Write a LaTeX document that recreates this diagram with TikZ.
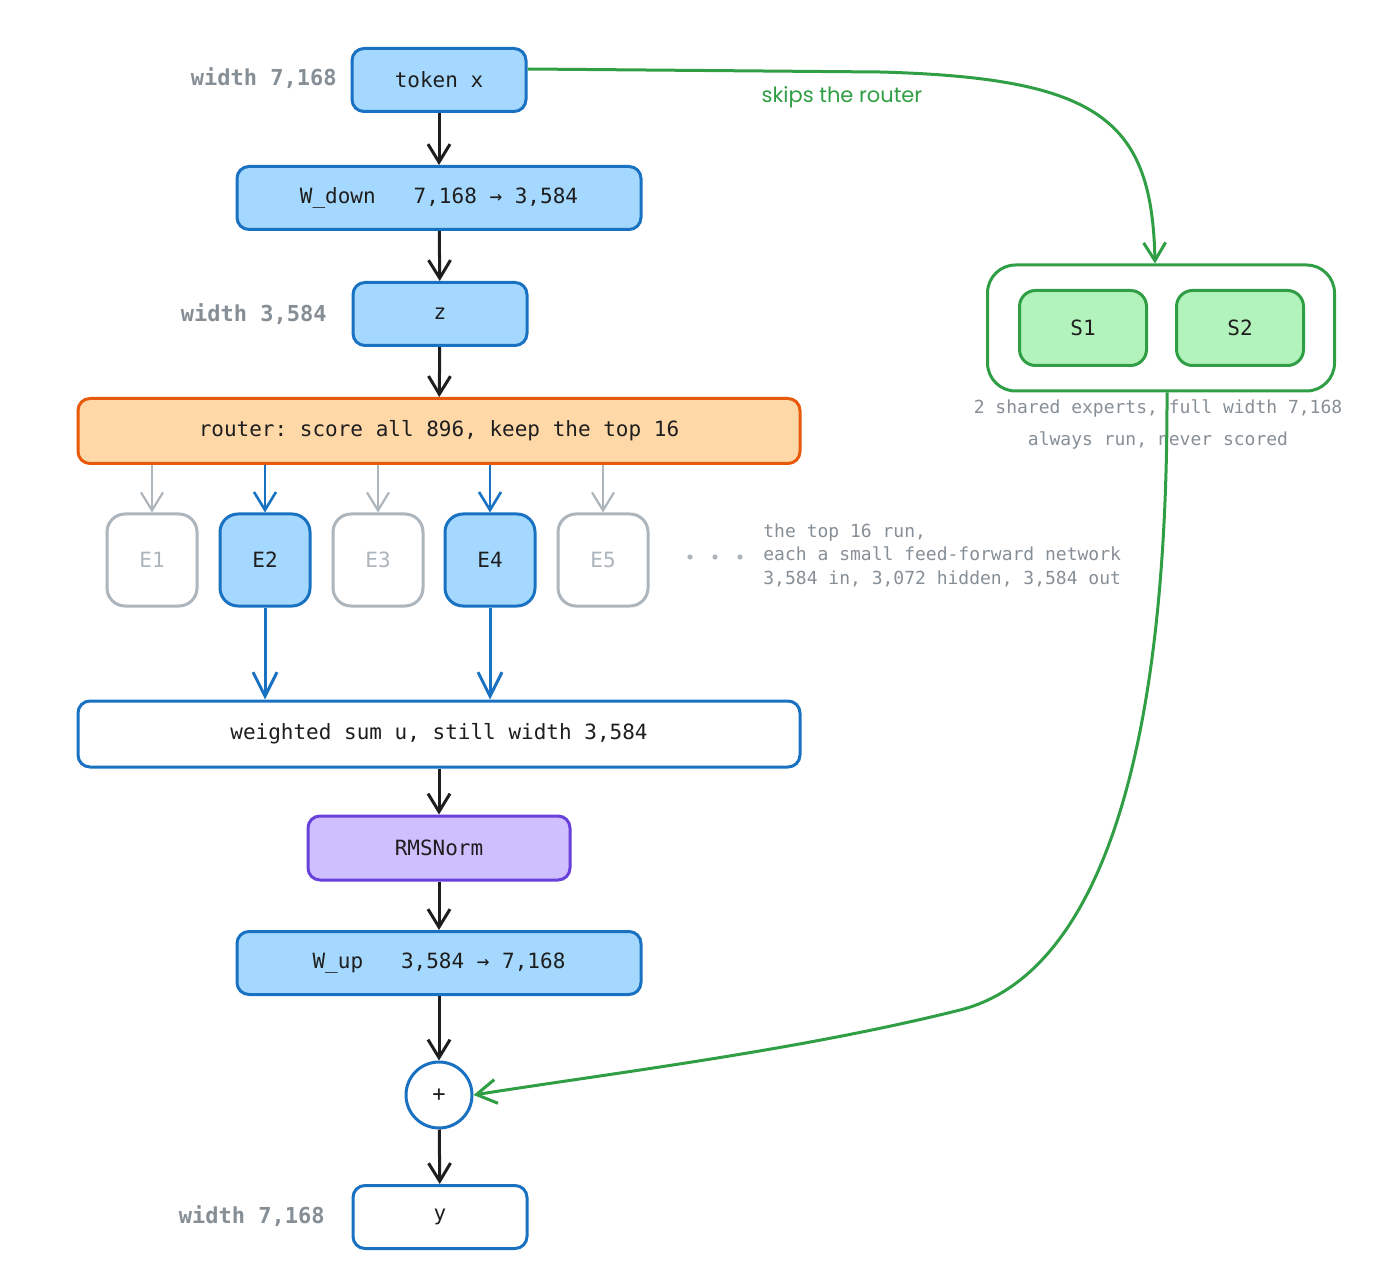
\documentclass[tikz,border=0pt]{standalone}
\usepackage{fontspec}
\setmonofont{DejaVu Sans Mono}
\newfontfamily\notefont{Poppins}
\usepackage{tikz}
\usetikzlibrary{arrows.meta,positioning}

\definecolor{blueln}{HTML}{1971C2}
\definecolor{bluefl}{HTML}{A5D8FF}
\definecolor{orangeln}{HTML}{E8590C}
\definecolor{orangefl}{HTML}{FFD8A8}
\definecolor{violetln}{HTML}{6741D9}
\definecolor{violetfl}{HTML}{D0BFFF}
\definecolor{greenln}{HTML}{2F9E44}
\definecolor{greenfl}{HTML}{B2F2BB}
\definecolor{greyln}{HTML}{ADB5BD}
\definecolor{greytx}{HTML}{868E96}
\definecolor{ink}{HTML}{1E1E1E}

\tikzset{
  box/.style={draw, rounded corners=6pt, line width=1.5pt, inner sep=0pt, text=ink,
    font=\ttfamily\fontsize{10.5}{12}\selectfont},
  bluebox/.style={box, draw=blueln, fill=bluefl},
  whitebox/.style={box, draw=blueln, fill=white},
  expert/.style={box, rounded corners=9pt, minimum width=45pt, minimum height=46pt},
  dimlbl/.style={anchor=east, inner sep=0pt, text=greytx, font=\ttfamily\bfseries\fontsize{11}{13}\selectfont},
  note/.style={inner sep=0pt, text=greytx, font=\ttfamily\fontsize{9}{11.75}\selectfont},
  arr/.style={-{Straight Barb[length=9pt,width=11pt]}, line width=1.5pt, draw=ink},
}

\begin{document}
\begin{tikzpicture}[x=0.5pt, y=-0.5pt]
\useasboundingbox (0,0) rectangle (1386,1288);

% main column
\node[bluebox, minimum width=87pt, minimum height=31.5pt] (tok) at (439,80) {token x};
\node[bluebox, minimum width=202pt, minimum height=31.5pt] (wdown) at (439,198) {W\_down~~~7,168 → 3,584};
\node[bluebox, minimum width=87pt, minimum height=31.5pt] (z) at (440,314) {z};
\node[box, draw=orangeln, fill=orangefl, minimum width=361pt, minimum height=32.5pt] (router) at (439,431)
  {router: score all 896, keep the top 16};

\node[dimlbl] (tokw) at (337,78) {width 7,168};
\node[dimlbl] (zw) at (327,314) {width 3,584};

% experts
\foreach \n/\x in {1/152,3/378,5/603} {
  \node[expert, draw=greyln, fill=white, text=greyln] (e\n) at (\x,560) {E\n};
  \draw[arr, draw=greyln, line width=1.1pt] (router.south -| e\n) -- (e\n.north);
}
\foreach \n/\x in {2/265,4/490} {
  \node[expert, draw=blueln, fill=bluefl] (e\n) at (\x,560) {E\n};
  \draw[arr, draw=blueln, line width=1.3pt] (router.south -| e\n) -- (e\n.north);
}
\foreach \x in {690,715,740} {
  \fill[greyln] (\x,557) circle (1.3pt);
}
\node[note, anchor=west, align=left] (topnote) at (763,555)
  {the top 16 run,\\each a small feed-forward network\\3,584 in, 3,072 hidden, 3,584 out};

\node[whitebox, minimum width=361pt, minimum height=33pt] (wsum) at (439,734) {weighted sum u, still width 3,584};
\node[box, draw=violetln, fill=violetfl, minimum width=131pt, minimum height=32pt] (norm) at (439,848) {RMSNorm};
\node[bluebox, minimum width=202pt, minimum height=31.5pt] (wup) at (439,963) {W\_up~~~3,584 → 7,168};
\node[circle, draw=blueln, line width=1.5pt, fill=white, minimum size=33pt, inner sep=0pt,
  font=\ttfamily\fontsize{11}{12}\selectfont, text=ink] (plus) at (439,1095) {+};
\node[whitebox, minimum width=87pt, minimum height=31.5pt] (y) at (440,1217) {y};
\node[dimlbl] (yw) at (325,1216) {width 7,168};

% shared experts
\node[box, draw=greenln, fill=white, rounded corners=14pt, minimum width=173.5pt, minimum height=63pt] (shared) at (1161,328) {};
\node[box, draw=greenln, fill=greenfl, rounded corners=8pt, minimum width=63.5pt, minimum height=37.5pt] (s1) at (1083,328) {S1};
\node[box, draw=greenln, fill=greenfl, rounded corners=8pt, minimum width=63.5pt, minimum height=37.5pt] (s2) at (1240,328) {S2};
\node[note, align=center, font=\ttfamily\fontsize{9}{16}\selectfont] (sharednote) at (1158,424)
  {2 shared experts, full width 7,168\\always run, never scored};
\node[text=greenln, font=\notefont\fontsize{10.5}{12}\selectfont] (skiplbl) at (842,97) {skips the router};

% flow
\draw[arr] (tok) -- (wdown);
\draw[arr] (wdown) -- (z);
\draw[arr] (z) -- (router);
\draw[arr, draw=blueln, -{Straight Barb[length=12pt,width=12pt]}] (e2.south) -- (e2.south |- wsum.north);
\draw[arr, draw=blueln, -{Straight Barb[length=12pt,width=12pt]}] (e4.south) -- (e4.south |- wsum.north);
\draw[arr] (wsum) -- (norm);
\draw[arr] (norm) -- (wup);
\draw[arr] (wup) -- (plus);
\draw[arr] (plus) -- (y);

% skip path
\draw[arr, draw=greenln] ([yshift=5.5pt]tok.east) -- (880,72)
  .. controls (1100,78) and (1152,120) .. ([xshift=-3pt]shared.north);
\draw[arr, draw=greenln, -{Straight Barb[length=10pt,width=12pt]}] ([xshift=3pt]shared.south)
  .. controls (1168,850) and (1060,985) .. (960,1010)
  .. controls (800,1050) and (620,1072) .. (plus.east);
\end{tikzpicture}
\end{document}
